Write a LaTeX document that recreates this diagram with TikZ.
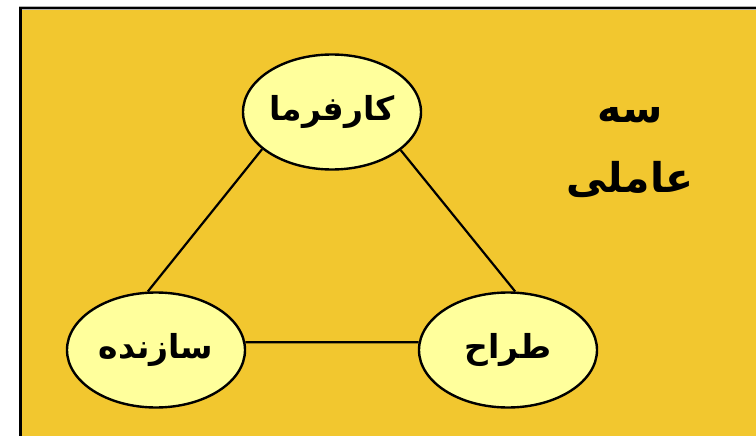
\documentclass[tikz,border=0pt]{standalone}
\usepackage{fontspec}
\newfontfamily\arabicfont[Script=Arabic]{DejaVu Sans}
\TeXXeTstate=1
\usetikzlibrary{shapes.geometric, positioning}
\definecolor{slidegold}{HTML}{F2C72F}
\definecolor{rolefill}{HTML}{FFFF9C}
\tikzset{
x=1pt, y=-1pt, % one unit is one pixel of the slide, y runs down
role/.style={ellipse, draw, line width=2.4pt, fill=rolefill, minimum width=178pt, minimum height=115pt, inner sep=0pt}, % the three parties
link/.style={line width=2.2pt}, % plain lines between parties
rolefont/.style={font=\arabicfont\bfseries\fontsize{33}{38}\selectfont},
}
\newcommand{\rtl}[1]{\beginR #1\endR}
\begin{document}
\begin{tikzpicture}
\useasboundingbox (0,0) rectangle (756,436);
% slide background
\draw[gray!60, line width=3.5pt, fill=slidegold] (20.5,8.2) rectangle (820,520);
\draw[line width=2.4pt] (20.5,8.2) rectangle (820,520);

\node[role, rolefont] (karfarma) at (332,112) {\rtl{کارفرما}};
\node[role, rolefont, on grid, below left=238pt and 176pt of karfarma] (sazande) {\rtl{سازنده}};
\node[role, rolefont, on grid, below right=238pt and 176pt of karfarma] (tarrah) {\rtl{طراح}};
\node[font=\arabicfont\bfseries\fontsize{41}{70}\selectfont, align=center] (title) at (630,153) {\rtl{سه}\\\rtl{عاملی}};

\draw[link]
    (karfarma.208.5) -- (sazande.98)
    (karfarma.331.5) -- (tarrah.83)
    (sazande.5) -- (tarrah.175)
    ;
\end{tikzpicture}
\end{document}
